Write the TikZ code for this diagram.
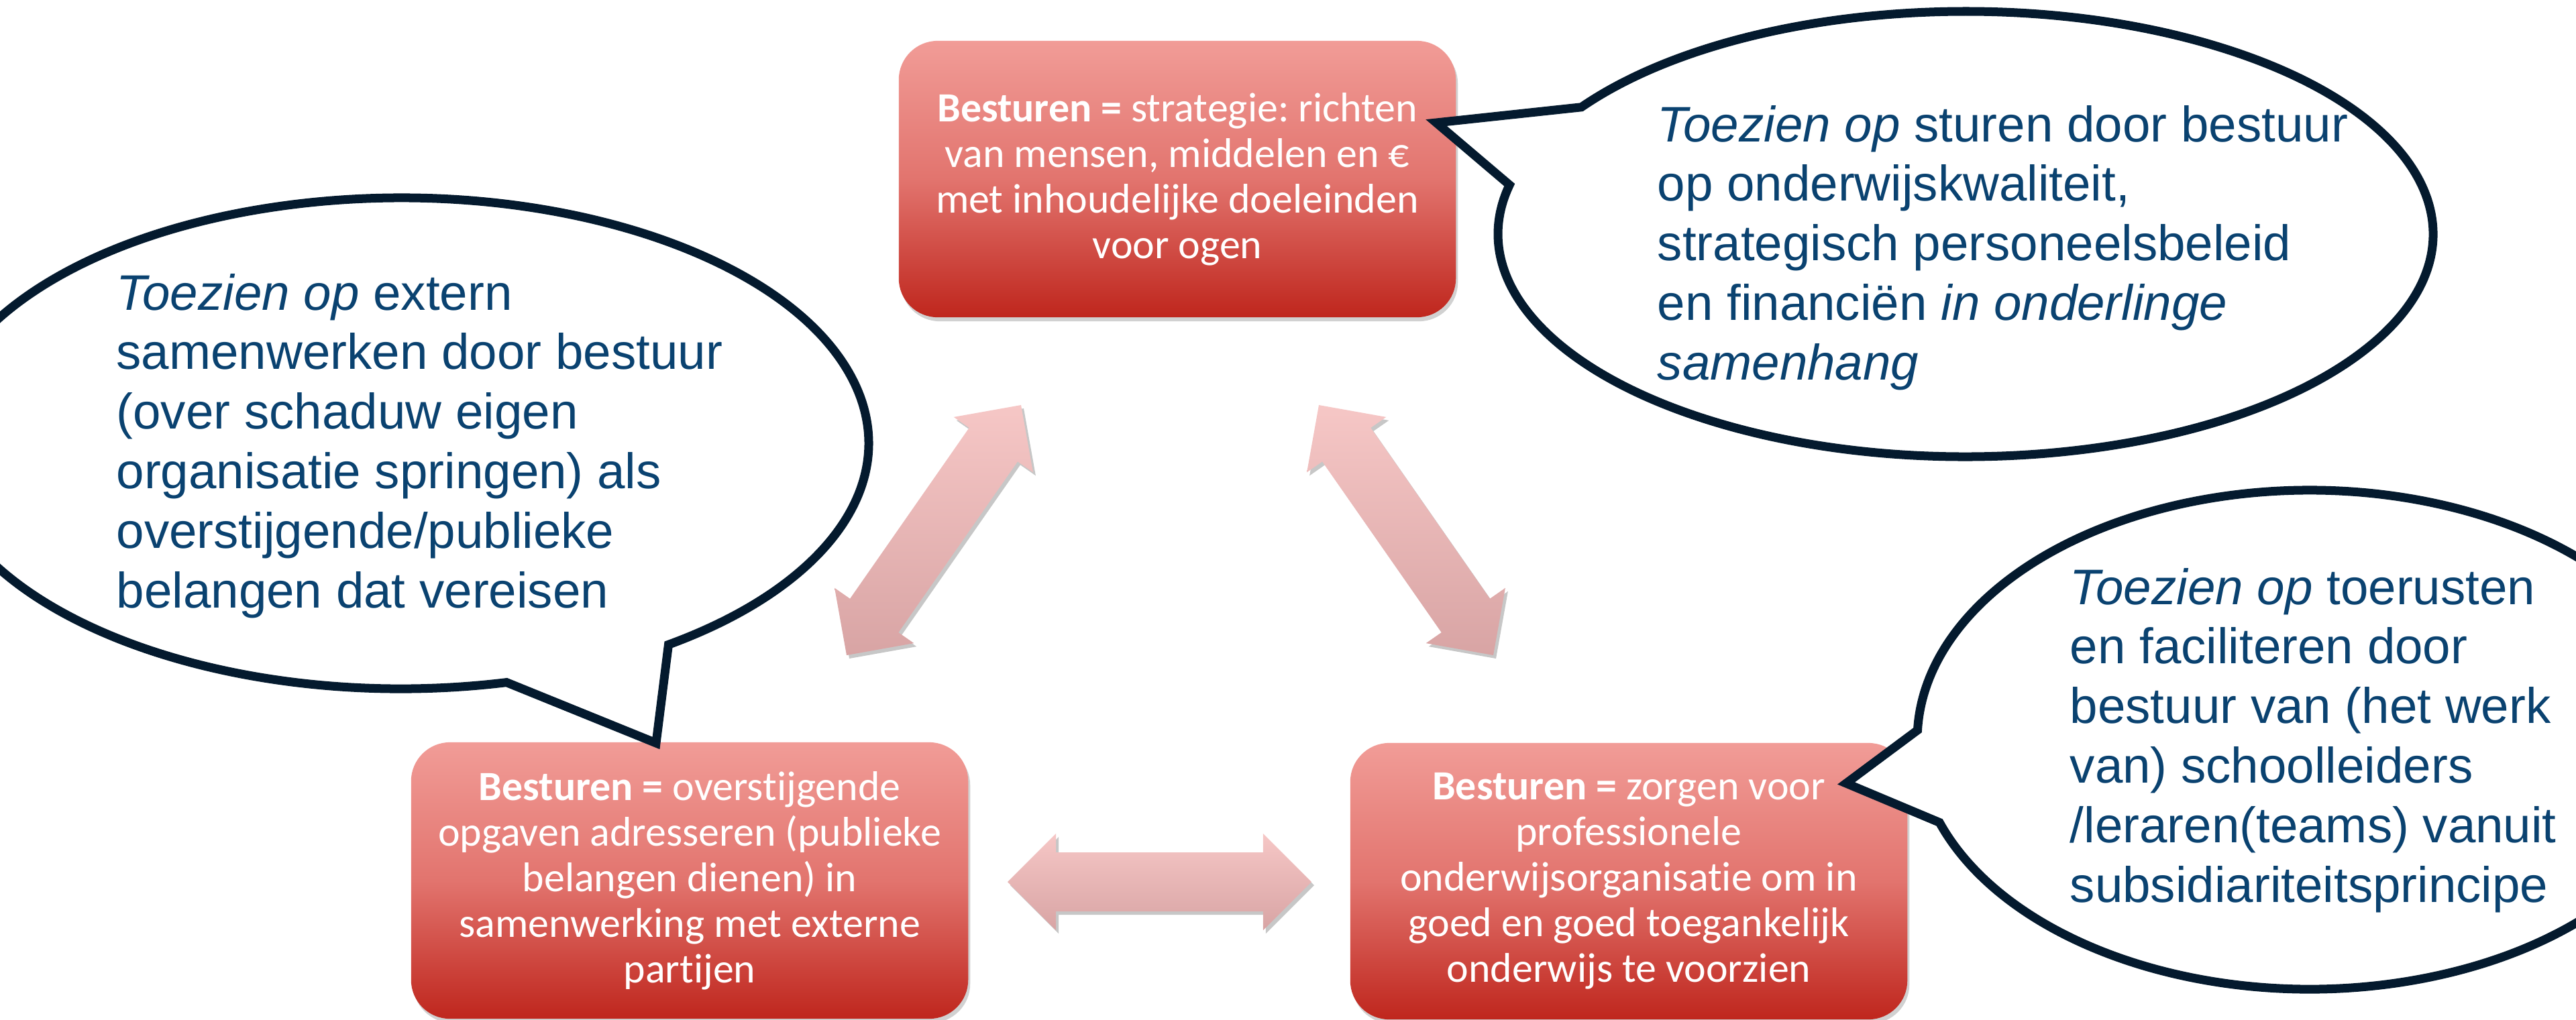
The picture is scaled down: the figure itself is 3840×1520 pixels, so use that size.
\documentclass[tikz,border=0pt]{standalone}
\usepackage{fontspec}
\setmainfont{Liberation Sans}
\newfontfamily\boxfont[Ligatures={NoCommon}]{Carlito}
\frenchspacing
\usetikzlibrary{calc,shadows}

\definecolor{boxtop}{RGB}{241,156,151}
\definecolor{boxmid}{RGB}{226,116,110}
\definecolor{boxbot}{RGB}{191,38,29}
\definecolor{arrtop}{RGB}{246,199,198}
\definecolor{arrbot}{RGB}{216,164,164}
\definecolor{bubline}{RGB}{4,26,46}
\definecolor{bubtext}{RGB}{10,66,112}

\pgfdeclareverticalshading{boxshade}{100bp}{color(0bp)=(boxbot); color(25bp)=(boxbot); color(50bp)=(boxmid); color(75bp)=(boxtop); color(100bp)=(boxtop)}

\tikzset{
  redbox/.style={shape=rectangle, rounded corners=0.58cm, shade, shading=boxshade,
    minimum width=8.3cm, minimum height=4.12cm, inner sep=0pt, align=center,
    text=white, font=\boxfont\fontsize{17.6pt}{19.35pt}\selectfont,
    drop shadow={shadow xshift=0.03cm, shadow yshift=-0.06cm, opacity=0.18, fill=black}},
  arrowshape/.style={top color=arrtop, bottom color=arrbot, draw=none,
    drop shadow={shadow xshift=0.04cm, shadow yshift=-0.05cm, opacity=0.22, fill=black}},
  bubble/.style={draw=bubline, line width=0.13cm, fill=white, line join=miter},
  bubtxt/.style={anchor=base west, inner sep=0pt, text=bubtext,
    font=\fontsize{21.2pt}{25.3pt}\selectfont}
}

% double block arrow between two named tip coordinates
\newcommand{\blockarrow}[2]{%
  \coordinate (#1h) at ($(#1)!0.72cm!(#2)$);
  \coordinate (#2h) at ($(#2)!0.72cm!(#1)$);
  \path[arrowshape] (#1)
    -- ($(#1h)!0.72cm!90:(#2)$) -- ($(#1h)!0.44cm!90:(#2)$)
    -- ($(#2h)!0.44cm!-90:(#1)$) -- ($(#2h)!0.72cm!-90:(#1)$)
    -- (#2)
    -- ($(#2h)!0.72cm!90:(#1)$) -- ($(#2h)!0.44cm!90:(#1)$)
    -- ($(#1h)!0.44cm!-90:(#2)$) -- ($(#1h)!0.72cm!-90:(#2)$)
    -- cycle;
}

\begin{document}
\begin{tikzpicture}[x=0.01cm,y=-0.01cm]
\useasboundingbox (0,0) rectangle (3840,1520);
\clip (0,0) rectangle (3840,1520);
\fill[white] (0,0) rectangle (3840,1520);

% boxes
\node[redbox] (top) at (1755,267) {\textbf{Besturen =} strategie: richten\\van mensen, middelen en €\\met inhoudelijke doeleinden\\voor ogen};
\node[redbox] (bl) at (1028,1313) {\textbf{Besturen =} overstijgende\\opgaven adresseren (publieke\\belangen dienen) in\\samenwerking met externe\\partijen};
\node[redbox] (br) at (2428,1314) {\textbf{Besturen =} zorgen voor\\professionele\\onderwijsorganisatie om in\\goed en goed toegankelijk\\onderwijs te voorzien};

% arrow tips
\coordinate (la) at (1262,977);
\coordinate (lb) at (1522,604);
\coordinate (ra) at (1966,604);
\coordinate (rb) at (2226,977);
\coordinate (ha) at (1502,1315);
\coordinate (hb) at (1955,1315);
\blockarrow{la}{lb}
\blockarrow{ra}{rb}
\blockarrow{ha}{hb}

% callout bubbles
\draw[bubble] (2930,349) ++(-145.25:697 and 332)
  arc[start angle=-145.25, end angle=192.74, x radius=697, y radius=332]
  -- (2141,183) -- cycle;
\draw[bubble] (598,661) ++(76.97:697 and 366)
  arc[start angle=76.97, end angle=415.13, x radius=697, y radius=366]
  -- (978,1108) -- cycle;
\draw[bubble] (3443,1103) ++(160.62:585 and 372)
  arc[start angle=160.62, end angle=-177.8, x radius=585, y radius=372]
  -- (2752,1168) -- cycle;

% bubble texts
\node[bubtxt] (trtext) at (2470,211) {\begin{tabular}[t]{@{}l@{}}\textit{Toezien op} sturen door bestuur\\op onderwijskwaliteit,\\strategisch personeelsbeleid\\en financiën \textit{in onderlinge}\\\textit{samenhang}\end{tabular}};
\node[bubtxt] (ltext) at (173,462) {\begin{tabular}[t]{@{}l@{}}\textit{Toezien op} extern\\samenwerken door bestuur\\(over schaduw eigen\\organisatie springen) als\\overstijgende/publieke\\belangen dat vereisen\end{tabular}};
\node[bubtxt] (brtext) at (3085,901) {\begin{tabular}[t]{@{}l@{}}\textit{Toezien op} toerusten\\en faciliteren door\\bestuur van (het werk\\van) schoolleiders\\/leraren(teams) vanuit\\subsidiariteitsprincipe\end{tabular}};
\end{tikzpicture}
\end{document}
